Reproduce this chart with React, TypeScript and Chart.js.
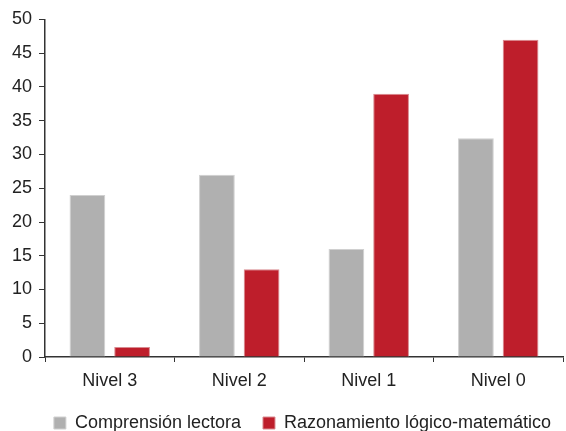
import React, { useEffect, useRef } from "react";
import { Chart, registerables } from "chart.js";

Chart.register(...registerables);

const categories = ["Nivel 3", "Nivel 2", "Nivel 1", "Nivel 0"];
const comprension = [24, 27, 16, 32.4];
const razonamiento = [1.5, 13, 39, 47];
const seriesNames = ["Comprensión lectora", "Razonamiento lógico-matemático"];

const legendShift = {
  id: "legendShift",
  afterLayout(chart: any) {
    const lg = chart.legend;
    if (lg) {
      lg.left += 21;
      lg.right += 21;
    }
  },
};

export default function App() {
  const ref = useRef<HTMLCanvasElement | null>(null);
  useEffect(() => {
    if (!ref.current) return;
    const font = { family: "'Liberation Sans', Arial, sans-serif", size: 18 };
    const chart = new Chart(ref.current, {
      type: "bar",
      data: {
        labels: categories,
        datasets: [
          {
            label: seriesNames[0],
            data: comprension,
            backgroundColor: "#b0b0b0",
            borderColor: "#d0d0d0",
            borderWidth: 1,
            categoryPercentage: 0.69,
            barPercentage: 0.8,
          },
          {
            label: seriesNames[1],
            data: razonamiento,
            backgroundColor: "#be1e2b",
            borderColor: "#d98a90",
            borderWidth: 1,
            categoryPercentage: 0.69,
            barPercentage: 0.8,
          },
        ],
      },
      plugins: [legendShift],
      options: {
        responsive: false,
        animation: false,
        layout: { padding: { top: 19.5, right: 3, left: 0, bottom: -11 } },
        plugins: {
          tooltip: { enabled: false },
          legend: {
            position: "bottom",
            labels: {
              boxWidth: 12,
              boxHeight: 12,
              color: "#222",
              font,
              padding: 22,
            },
          },
        },
        scales: {
          x: {
            grid: {
              display: true,
              drawOnChartArea: false,
              drawTicks: true,
              tickLength: 5,
              color: "#333",
              offset: true,
            },
            border: { color: "#333", width: 1.5 },
            ticks: { color: "#222", font, padding: 8 },
            afterFit: (s: any) => {
              s.height = 35;
            },
          },
          y: {
            min: 0,
            max: 50,
            grid: {
              display: true,
              drawOnChartArea: false,
              drawTicks: true,
              tickLength: 6,
              color: "#333",
            },
            border: { color: "#333", width: 1.5 },
            ticks: { color: "#222", font, stepSize: 5, padding: 7 },
            afterFit: (s: any) => {
              s.width = 45;
            },
          },
        },
      },
    });
    return () => chart.destroy();
  }, []);
  return (
    <div style={{ position: "absolute", left: 0, top: 0, width: 566, height: 431, background: "#fff" }}>
      <canvas ref={ref} width={566} height={431} />
    </div>
  );
}
